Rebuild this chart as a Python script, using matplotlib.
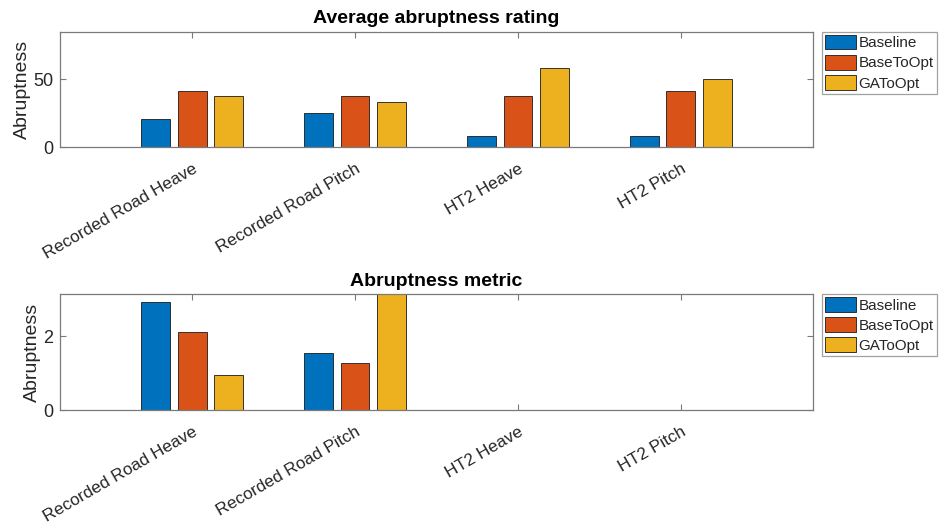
import matplotlib
matplotlib.use("Agg")
import matplotlib.pyplot as plt
import numpy as np

plt.rcParams["font.family"] = ["Liberation Sans", "DejaVu Sans"]

# Category names and series labels
categories = ["Recorded Road Heave", "Recorded Road Pitch", "HT2 Heave", "HT2 Pitch"]
series_names = ["Baseline", "BaseToOpt", "GAToOpt"]
series_colors = ["#0072BD", "#D95319", "#EDB120"]

# Average abruptness rating per scenario
rating_baseline = [20.83, 25.0, 8.33, 8.33]
rating_base_to_opt = [41.67, 37.5, 37.5, 41.67]
rating_ga_to_opt = [37.5, 33.33, 58.33, 50.0]

# Abruptness metric per scenario
metric_baseline = [2.93, 1.56, 0.0, 0.0]
metric_base_to_opt = [2.12, 1.29, 0.0, 0.0]
metric_ga_to_opt = [0.94, 3.2, 0.0, 0.0]

TEXT = "#262626"
AXC = "#7a7a7a"

fig = plt.figure(figsize=(9.39, 5.24), dpi=100)
ax_top = fig.add_axes([60 / 939, 1 - 147 / 524, 753 / 939, 115.3 / 524])
ax_bot = fig.add_axes([60 / 939, 1 - 410.3 / 524, 753 / 939, 116.3 / 524])


def grouped_bars(ax, values, title, ylim, yticks):
    x = np.arange(1, len(categories) + 1)
    n = len(values)
    step = min(0.8, n / (n + 1.5)) / n
    width = step * 0.8
    for i, (vals, name, col) in enumerate(zip(values, series_names, series_colors)):
        offs = (i - (n - 1) / 2) * step
        ax.bar(x + offs, vals, width=width, color=col, edgecolor="#1a1a1a",
               linewidth=0.6, label=name, zorder=2)
    ax.set_xlim(0.19, 4.81)
    ax.set_ylim(*ylim)
    ax.set_yticks(yticks)
    ax.set_xticks(x)
    ax.set_xticklabels(categories, rotation=30, ha="right", va="top",
                       rotation_mode="anchor", fontsize=12.3, color=TEXT)
    ax.tick_params(axis="both", direction="in", length=4.5, width=0.8,
                   color=AXC, top=True, right=True, labelcolor=TEXT)
    ax.tick_params(axis="y", labelsize=13, pad=5)
    ax.tick_params(axis="x", pad=10)
    for s in ax.spines.values():
        s.set_color(AXC)
        s.set_linewidth(0.9)
    ax.set_ylabel("Abruptness", fontsize=14, color=TEXT, labelpad=1.5)
    ax.set_title(title, fontsize=14, fontweight="bold", color="black", pad=6)
    leg = ax.legend(loc="upper left", bbox_to_anchor=(1.0115, 1.0),
                    borderaxespad=0, fontsize=11, frameon=True, fancybox=False,
                    handlelength=2.05, handleheight=1.1, handletextpad=0.15,
                    labelspacing=0.3, borderpad=0.2)
    leg.get_frame().set_edgecolor("#8a8a8a")
    leg.get_frame().set_linewidth(0.9)
    for t in leg.get_texts():
        t.set_color(TEXT)


grouped_bars(ax_top, [rating_baseline, rating_base_to_opt, rating_ga_to_opt],
             "Average abruptness rating", (0, 85.2), [0, 50])
grouped_bars(ax_bot, [metric_baseline, metric_base_to_opt, metric_ga_to_opt],
             "Abruptness metric", (0, 3.14), [0, 2])

fig.savefig("out.png", dpi=100)
